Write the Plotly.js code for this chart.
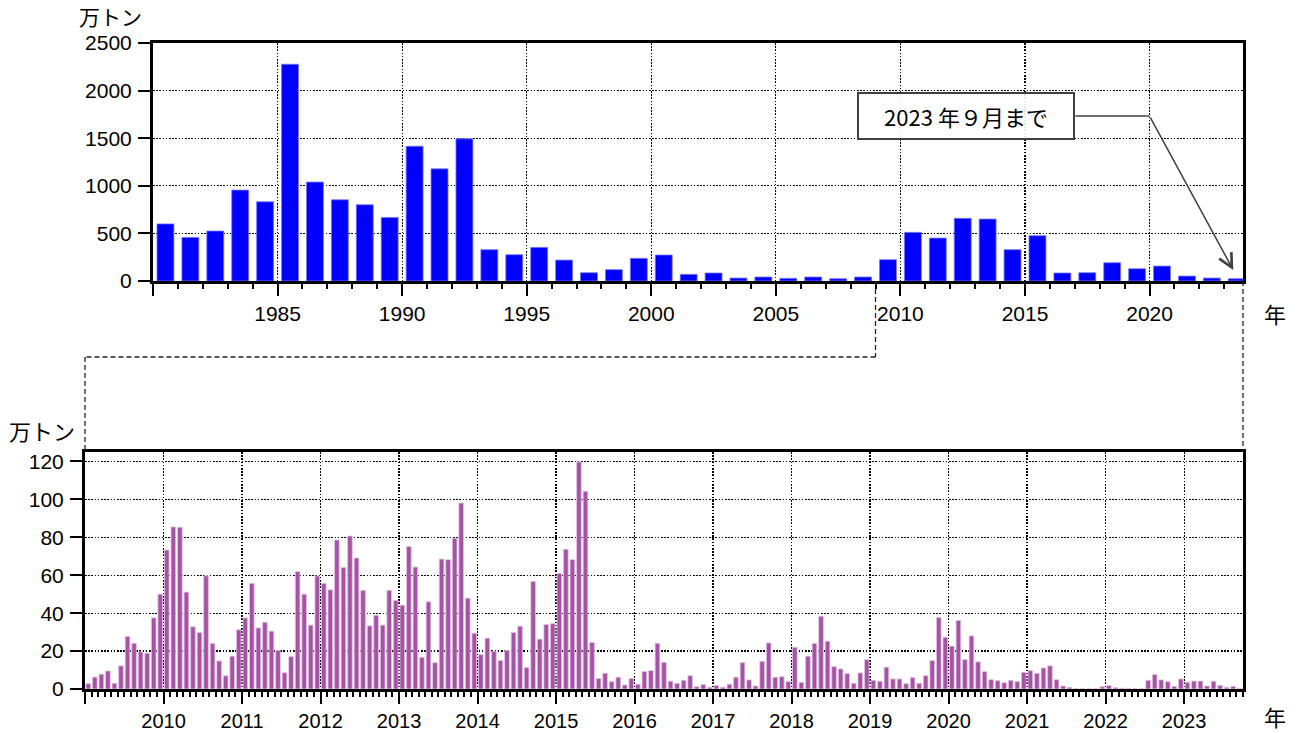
<!DOCTYPE html>
<html>
<head>
<meta charset="utf-8">
<script src="https://cdn.plot.ly/plotly-3.0.1.min.js"></script>
<style>html,body{margin:0;padding:0;background:#fff;}#chart{width:1300px;height:733px;}</style>
</head>
<body>
<div id="chart"></div>
<script>
// ---- Annual data (万トン), 1980–2023 (2023: through September) ----
const years = [1980,1981,1982,1983,1984,1985,1986,1987,1988,1989,
               1990,1991,1992,1993,1994,1995,1996,1997,1998,1999,
               2000,2001,2002,2003,2004,2005,2006,2007,2008,2009,
               2010,2011,2012,2013,2014,2015,2016,2017,2018,2019,
               2020,2021,2022,2023];
const annual = [600,458,525,955,832,2277,1039,853,801,668,
                1416,1178,1493,329,276,353,220,87,119,238,
                273,70,84,31,42,28,42,24,42,224,
                511,451,658,651,329,476,84,87,192,129,
                157,52,31,24];

// ---- Monthly data (万トン), Jan 2009 – Sep 2023 ----
const monthYears = [2009,2010,2011,2012,2013,2014,2015,2016,2017,2018,2019,2020,2021,2022,2023];
const m2009 = [2.8,6.3,7.8,9.5,3.0,12.2,27.7,24.1,19.6,18.9,37.5,50.0];
const m2010 = [73.3,85.5,85.3,51.1,32.8,29.8,59.7,24.0,14.8,7.0,17.3,31.2];
const m2011 = [37.5,55.7,32.2,35.2,30.5,20.3,8.6,17.1,61.9,50.0,33.7,59.6];
const m2012 = [55.7,52.3,78.6,64.1,80.7,69.1,52.0,33.3,38.9,33.7,52.0,46.7];
const m2013 = [44.2,75.2,64.3,16.7,46.0,13.9,68.5,68.2,79.5,98.1,47.9,29.4];
const m2014 = [18.1,26.8,19.9,15.0,20.3,29.8,33.1,11.3,56.7,26.3,34.0,34.5];
const m2015 = [61.0,73.7,68.2,119.8,104.3,24.5,5.5,8.3,3.9,6.2,2.1,5.5];
const m2016 = [2.5,9.2,9.7,24.1,14.1,4.1,3.0,4.6,7.0,1.2,2.3,0.9];
const m2017 = [1.8,0.9,2.5,6.2,13.9,4.8,1.6,14.6,24.3,6.2,6.5,3.9];
const m2018 = [22.0,3.5,17.3,24.0,38.4,25.2,11.8,10.6,8.1,3.0,8.5,15.5];
const m2019 = [4.6,4.1,11.5,5.3,5.3,2.8,6.0,3.0,7.0,15.0,37.7,27.3];
const m2020 = [22.6,36.1,15.5,28.0,14.3,9.2,4.9,4.4,3.3,4.6,3.9,8.8];
const m2021 = [9.7,8.3,11.1,12.2,4.9,1.6,0.9,0.2,0.2,0.2,0.2,1.2];
const m2022 = [1.8,0.7,0.4,0.4,0.2,0.2,4.6,7.6,4.8,3.9,1.4,5.3];
const m2023 = [3.5,4.2,4.2,1.6,4.1,1.9,0.9,1.4,0.2];
const monthly = [m2009,m2010,m2011,m2012,m2013,m2014,m2015,m2016,m2017,m2018,m2019,m2020,m2021,m2022,m2023];

const topTickYears = [1980,1985,1990,1995,2000,2005,2010,2015,2020];
const botTickYears = [2009,2010,2011,2012,2013,2014,2015,2016,2017,2018,2019,2020,2021,2022,2023];
const boxLabel = '2023 年９月まで';

// build monthly x (fractional year, bar centred in its month)
const mx = [], my = [];
monthYears.forEach((yr, k) => {
  monthly[k].forEach((v, i) => { mx.push(yr + (i + 0.5) / 12); my.push(v); });
});
const ax = years.map(y => y + 0.5);

const FONT = '"Noto Sans CJK JP", "Noto Sans", sans-serif';
const NUMFONT = '"Liberation Sans", Arial, sans-serif';
const tickfont = {family: NUMFONT, size: 21, color: '#000'};
const GRIDDASH = '1.5px,1.7px';

const topDom = [(153-85)/1158, 1];
const topY = [(689-281)/646, 1];
const botY = [0, (689-452)/646];
const midY = (689-357)/646;
const xTopRange = [1980, 2023.75];
const xBotRange = [2009, 2023.75];
const px2009 = topDom[0] + (2009 - xTopRange[0]) / (xTopRange[1]-xTopRange[0]) * (topDom[1]-topDom[0]);

const traces = [
  {type:'bar', x: ax, y: annual, xaxis:'x', yaxis:'y', width: 0.68,
   marker:{color:'#0000FF', line:{color:'#7777FF', width:0.8}}, hoverinfo:'skip'},
  {type:'bar', x: mx, y: my, xaxis:'x2', yaxis:'y2', width: 0.71/12,
   marker:{color:'#A653A6', line:{color:'#E2C4E2', width:0.8}}, hoverinfo:'skip'}
];

const axisCommon = {
  showline:true, linewidth:3, linecolor:'#000', mirror:true,
  ticks:'outside', tickwidth:2, tickcolor:'#000',
  showgrid:true, gridcolor:'#000', gridwidth:1.2, griddash:GRIDDASH,
  zeroline:false, tickfont: tickfont, fixedrange:true
};

const layout = {
  width:1300, height:733,
  margin:{l:85, r:57, t:43, b:44},
  paper_bgcolor:'#fff', plot_bgcolor:'#fff',
  showlegend:false, bargap:0,
  xaxis: Object.assign({}, axisCommon, {
    domain: topDom, anchor:'y', range: xTopRange,
    tickmode:'array', tickvals: topTickYears,
    ticktext: topTickYears.map(y => y === 1980 ? '' : String(y)),
    ticklen:12, ticklabelstandoff:0,
    minor:{tickmode:'linear', tick0:1980, dtick:1, ticks:'outside', ticklen:5, tickwidth:2, tickcolor:'#000', showgrid:false}
  }),
  yaxis: Object.assign({}, axisCommon, {
    domain: topY, anchor:'x', range:[0,2500], tickmode:'linear', tick0:0, dtick:500,
    ticklen:12, ticklabelstandoff:2
  }),
  xaxis2: Object.assign({}, axisCommon, {
    domain:[0,1], anchor:'y2', range: xBotRange,
    tickmode:'array', tickvals: botTickYears,
    ticktext: botTickYears.map(y => y === 2009 ? '' : String(y)),
    ticklen:12, ticklabelstandoff:0,
    tickfont:{family: NUMFONT, size: 20, color:'#000'},
    minor:{tickmode:'linear', tick0:2009, dtick:1/12, ticks:'outside', ticklen:5, tickwidth:2, tickcolor:'#000', showgrid:false}
  }),
  yaxis2: Object.assign({}, axisCommon, {
    domain: botY, anchor:'x2', range:[0,125], tickmode:'linear', tick0:0, dtick:20,
    ticklen:12, ticklabelstandoff:2
  }),
  annotations: [
    {xref:'paper', yref:'paper', x:(110-85)/1158, y:(689-16)/646, text:'万トン', showarrow:false,
     font:{family:FONT, size:21, color:'#000'}, xanchor:'center', yanchor:'middle'},
    {xref:'paper', yref:'paper', x:(42-85)/1158, y:(689-430)/646, text:'万トン', showarrow:false,
     font:{family:FONT, size:22, color:'#000'}, xanchor:'center', yanchor:'middle'},
    {xref:'paper', yref:'paper', x:(1275-85)/1158, y:(689-313)/646, text:'年', showarrow:false,
     font:{family:FONT, size:22, color:'#000'}, xanchor:'center', yanchor:'middle'},
    {xref:'paper', yref:'paper', x:(1275-85)/1158, y:(689-716)/646, text:'年', showarrow:false,
     font:{family:FONT, size:22, color:'#000'}, xanchor:'center', yanchor:'middle'},
    {xref:'x', yref:'y', x:2012.64, y:1733, text: boxLabel, showarrow:false,
     font:{family:FONT, size:22, color:'#000'}, bgcolor:'rgba(255,255,255,0.9)',
     bordercolor:'#404040', borderwidth:2, borderpad:2, width:210, height:40, align:'center'},
    {xref:'x', yref:'y', x:2023.36, y:115, axref:'x', ayref:'y', ax:2020, ay:1733, text:'',
     showarrow:true, arrowhead:5, arrowsize:1.8, arrowwidth:1.5, arrowcolor:'#404040'}
  ],
  shapes: [
    {type:'line', xref:'x', yref:'y', x0:2017.02, x1:2020, y0:1733, y1:1733, line:{color:'#404040', width:1.5}},
    {type:'line', xref:'x', yref:'paper', x0:2009, x1:2009, y0:topY[0], y1:midY, line:{color:'#222', width:1.3, dash:'5px,3px'}},
    {type:'line', xref:'paper', yref:'paper', x0:px2009, x1:0, y0:midY, y1:midY, line:{color:'#222', width:1.3, dash:'5px,3px'}},
    {type:'line', xref:'paper', yref:'paper', x0:0, x1:0, y0:midY, y1:botY[1], line:{color:'#222', width:1.3, dash:'5px,3px'}},
    {type:'line', xref:'paper', yref:'paper', x0:1, x1:1, y0:topY[0], y1:botY[1], line:{color:'#222', width:1.3, dash:'5px,3px'}}
  ]
};

Plotly.newPlot('chart', traces, layout, {staticPlot:true, displayModeBar:false});
</script>
</body>
</html>
